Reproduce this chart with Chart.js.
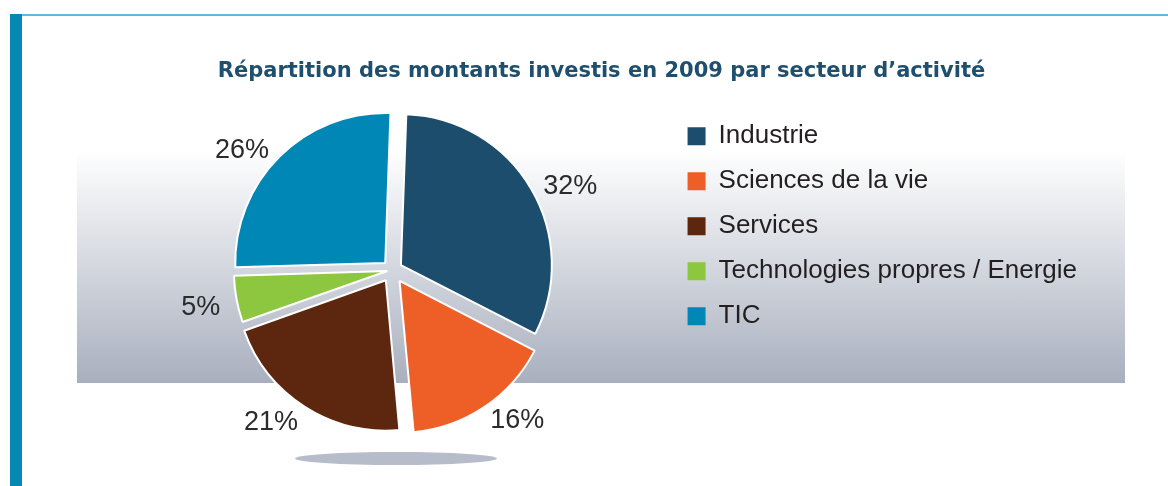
<!DOCTYPE html>
<html lang="fr">
<head>
<meta charset="utf-8">
<title>Répartition des montants investis en 2009</title>
<script src="https://cdn.jsdelivr.net/npm/chart.js@4.4.1/dist/chart.umd.min.js"></script>
<style>
  body { margin: 0; background: #fff; }
  .page { position: relative; width: 1168px; height: 486px; overflow: hidden; }
  .topLine { position: absolute; left: 10px; top: 14px; width: 1158px; height: 2px; background: #5dbdd8; }
  .sideBar { position: absolute; left: 10px; top: 14px; width: 12px; height: 472px; background: #0787b6; }
  .band { position: absolute; left: 77px; top: 150px; width: 1048px; height: 233px; background: linear-gradient(#fff, #a8afbe); }
  .shadow { position: absolute; left: 295px; top: 452px; width: 202px; height: 13px; border-radius: 50%; background: #b6bcc9; }
  canvas { position: absolute; left: 0; top: 0; }
</style>
</head>
<body>
<div class="page">
  <div class="topLine"></div>
  <div class="sideBar"></div>
  <div class="band"></div>
  <div class="shadow"></div>
  <canvas id="pieChart" width="1168" height="486"></canvas>
</div>
<script>
"use strict";
const sectors = ["Industrie", "Sciences de la vie", "Services", "Technologies propres / Energie", "TIC"];
const shares = [32, 16, 21, 5, 26];
const sectorColors = ["#1c4d6c", "#ee5e27", "#5d260e", "#8dc63f", "#0087b5"];
const chartTitle = "Répartition des montants investis en 2009 par secteur d’activité";
const fontFamily = "'Liberation Sans', Arial, sans-serif";

// percent labels outside the slices
const percentLabels = {
  id: "percentLabels",
  afterDatasetsDraw(chart) {
    const ctx = chart.ctx;
    const meta = chart.getDatasetMeta(0);
    ctx.save();
    ctx.font = "27px " + fontFamily;
    ctx.fillStyle = "#2b2b2b";
    ctx.textBaseline = "middle";
    meta.data.forEach((arc, i) => {
      const p = arc.getProps(["x", "y", "startAngle", "endAngle", "outerRadius"], true);
      const mid = (p.startAngle + p.endAngle) / 2;
      const r = p.outerRadius + 25;
      ctx.textAlign = Math.cos(mid) >= 0 ? "left" : "right";
      ctx.fillText(shares[i] + "%", p.x + Math.cos(mid) * r, p.y + Math.sin(mid) * r + 5);
    });
    ctx.restore();
  }
};

new Chart(document.getElementById("pieChart"), {
  type: "pie",
  data: {
    labels: sectors,
    datasets: [{
      data: shares,
      backgroundColor: sectorColors,
      borderColor: "#fff",
      borderWidth: 2,
      // exploded slices (chart.js divides offset by 4)
      offset: [40, 52, 48, 20, 40]
    }]
  },
  options: {
    responsive: false,
    animation: false,
    rotation: 2,
    radius: 150,
    layout: { padding: { left: 116, right: 81, top: 0, bottom: 50 } },
    plugins: {
      title: {
        display: true,
        text: chartTitle,
        color: "#1f4f6e",
        font: { family: "'DejaVu Sans', sans-serif", size: 21, weight: "bold" },
        padding: { top: 59, bottom: 20 }
      },
      legend: {
        position: "right",
        align: "start",
        fullSize: false,
        labels: {
          boxWidth: 18,
          boxHeight: 18,
          padding: 19,
          color: "#231f20",
          font: { family: fontFamily, size: 26 },
          generateLabels(chart) {
            return Chart.overrides.doughnut.plugins.legend.labels.generateLabels(chart)
              .map(item => ({ ...item, lineWidth: 0 }));
          }
        }
      },
      tooltip: { enabled: false }
    }
  },
  plugins: [percentLabels]
});
</script>
</body>
</html>
